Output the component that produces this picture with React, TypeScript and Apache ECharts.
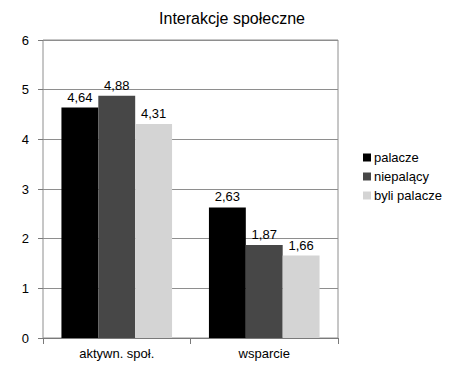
import React, { useEffect, useRef } from "react";
import * as echarts from "echarts";

const categories = ["aktywn. społ.", "wsparcie"];
const seriesNames = ["palacze", "niepalący", "byli palacze"];
const palacze = [4.64, 2.63];
const niepalacy = [4.88, 1.87];
const byliPalacze = [4.31, 1.66];
const colors = ["#000000", "#474747", "#d4d4d4"];

export default function App() {
  const ref = useRef<HTMLDivElement>(null);
  useEffect(() => {
    if (!ref.current) return;
    const chart = echarts.init(ref.current, null, { renderer: "svg" });
    const font = "Liberation Sans, Arial, sans-serif";
    const values = [palacze, niepalacy, byliPalacze];
    chart.setOption({
      animation: false,
      backgroundColor: "#ffffff",
      title: {
        text: "Interakcje społeczne",
        left: 227,
        textAlign: "center",
        top: 5,
        textStyle: { fontFamily: font, fontSize: 16, fontWeight: "normal", color: "#000" },
      },
      legend: {
        orient: "vertical",
        left: 358,
        top: 146,
        itemWidth: 8,
        itemHeight: 8,
        itemGap: 6,
        icon: "rect",
        textStyle: { fontFamily: font, fontSize: 13, color: "#000", padding: [0, 0, 0, -2] },
        data: seriesNames,
      },
      grid: { left: 43, right: 116, top: 40, bottom: 32, show: true, borderColor: "#8e8e8e", borderWidth: 1 },
      xAxis: {
        type: "category",
        data: categories,
        axisLine: { lineStyle: { color: "#7a7a7a", width: 1 } },
        axisTick: { show: true, length: 6, lineStyle: { color: "#7a7a7a" } },
        axisLabel: { fontFamily: font, fontSize: 13, color: "#000", margin: 9 },
      },
      yAxis: {
        type: "value",
        min: 0,
        max: 6,
        interval: 1,
        axisLine: { show: false },
        axisTick: { show: true, length: 5, lineStyle: { color: "#7a7a7a" } },
        axisLabel: { fontFamily: font, fontSize: 13, color: "#000", margin: 14 },
        splitLine: { lineStyle: { color: "#8e8e8e", width: 1 } },
      },
      series: seriesNames.map((name, i) => ({
        name,
        type: "bar",
        data: values[i],
        barGap: "0%",
        barCategoryGap: "25%",
        itemStyle: { color: colors[i] },
        label: {
          show: true,
          position: "top",
          distance: 4,
          fontFamily: font,
          fontSize: 13,
          color: "#000",
          formatter: (p: any) => String(p.value.toFixed(2)).replace(".", ","),
        },
      })),
    });
    return () => chart.dispose();
  }, []);
  return <div ref={ref} style={{ width: 454, height: 370, position: "absolute", left: 0, top: 0 }} />;
}
